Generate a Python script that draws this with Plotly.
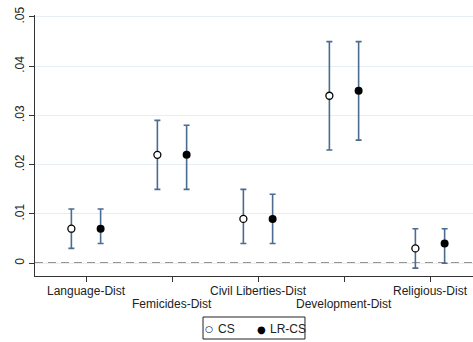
import plotly.graph_objects as go

categories = ["Language-Dist", "Femicides-Dist", "Civil Liberties-Dist", "Development-Dist", "Religious-Dist"]
cs_est = [0.007, 0.022, 0.009, 0.034, 0.003]
cs_lo = [0.003, 0.015, 0.004, 0.023, -0.001]
cs_hi = [0.011, 0.029, 0.015, 0.045, 0.007]
lr_est = [0.007, 0.022, 0.009, 0.035, 0.004]
lr_lo = [0.004, 0.015, 0.004, 0.025, 0.000]
lr_hi = [0.011, 0.028, 0.014, 0.045, 0.007]
series_names = ["CS", "LR-CS"]
legend_symbols = ["\u25CB", "\u25CF"]
ytick_vals = [0, 0.01, 0.02, 0.03, 0.04, 0.05]
ytick_text = ["0", ".01", ".02", ".03", ".04", ".05"]

pos = list(range(1, len(categories) + 1))
off = 0.17
err_color = "#4b6b91"
font_fam = "Liberation Sans, Arial"

fig = go.Figure()
fig.add_trace(go.Scatter(
    x=[p - off for p in pos], y=cs_est, mode="markers", name=series_names[0],
    marker=dict(size=7, color="white", line=dict(color="black", width=1.3)),
    showlegend=False,
    error_y=dict(type="data", symmetric=False,
                 array=[h - e for h, e in zip(cs_hi, cs_est)],
                 arrayminus=[e - l for e, l in zip(cs_est, cs_lo)],
                 color=err_color, thickness=1.6, width=3),
))
fig.add_trace(go.Scatter(
    x=[p + off for p in pos], y=lr_est, mode="markers", name=series_names[1],
    marker=dict(size=8, color="black", line=dict(color="black", width=0)),
    showlegend=False,
    error_y=dict(type="data", symmetric=False,
                 array=[h - e for h, e in zip(lr_hi, lr_est)],
                 arrayminus=[e - l for e, l in zip(lr_est, lr_lo)],
                 color=err_color, thickness=1.6, width=3),
))

# zero reference line
fig.add_shape(type="line", xref="paper", yref="y", x0=0, x1=1, y0=0, y1=0,
              line=dict(color="#2a2a2a", width=1.6, dash="8px,5px"), layer="between")

# staggered category labels
for i, (p, c) in enumerate(zip(pos, categories)):
    fig.add_annotation(x=p, xref="x", y=0, yref="paper", text=c, showarrow=False,
                       yanchor="top", yshift=-6 if i % 2 == 0 else -19,
                       font=dict(family=font_fam, size=12, color="#222"))

# compact legend (Stata style), placed in paper fractions below the plot
leg_y = -0.2031
leg_sym_x = [0.3973, 0.516]
leg_txt_x = [0.413, 0.533]
fig.add_shape(type="rect", xref="paper", yref="paper", x0=0.3836, x1=0.6164,
              y0=-0.2414, y1=-0.1571, line=dict(color="#222", width=1),
              fillcolor="rgba(0,0,0,0)", layer="below")
for xs, sym, sz in zip(leg_sym_x, legend_symbols, [9, 10]):
    fig.add_annotation(x=xs, xref="paper", y=leg_y, yref="paper", text=sym,
                       showarrow=False, xanchor="center", yanchor="middle",
                       font=dict(family="DejaVu Sans", size=sz, color="black"))
for xt, name in zip(leg_txt_x, series_names):
    fig.add_annotation(x=xt, xref="paper", y=leg_y, yref="paper", text=name,
                       showarrow=False, xanchor="left", yanchor="middle",
                       font=dict(family=font_fam, size=12, color="#222"))

fig.update_layout(
    width=473, height=342,
    margin=dict(l=35, r=0, t=15, b=66, autoexpand=False),
    plot_bgcolor="white", paper_bgcolor="white",
    font=dict(family=font_fam, size=12, color="#222"),
    showlegend=False,
    xaxis=dict(range=[0.407, 5.5], tickvals=pos, ticktext=[""] * len(pos),
               ticks="outside", ticklen=5, tickcolor="#333", showgrid=False,
               showline=True, linecolor="#333", linewidth=1, zeroline=False),
    yaxis=dict(range=[-0.0026, 0.0504], tickvals=ytick_vals, ticktext=ytick_text,
               tickangle=-90, ticks="outside", ticklen=5, tickcolor="#333",
               showgrid=True, gridcolor="#e6edf3", gridwidth=1,
               showline=True, linecolor="#333", linewidth=1, zeroline=False,
               tickfont=dict(size=12)),
)

fig.write_html("out.html")
